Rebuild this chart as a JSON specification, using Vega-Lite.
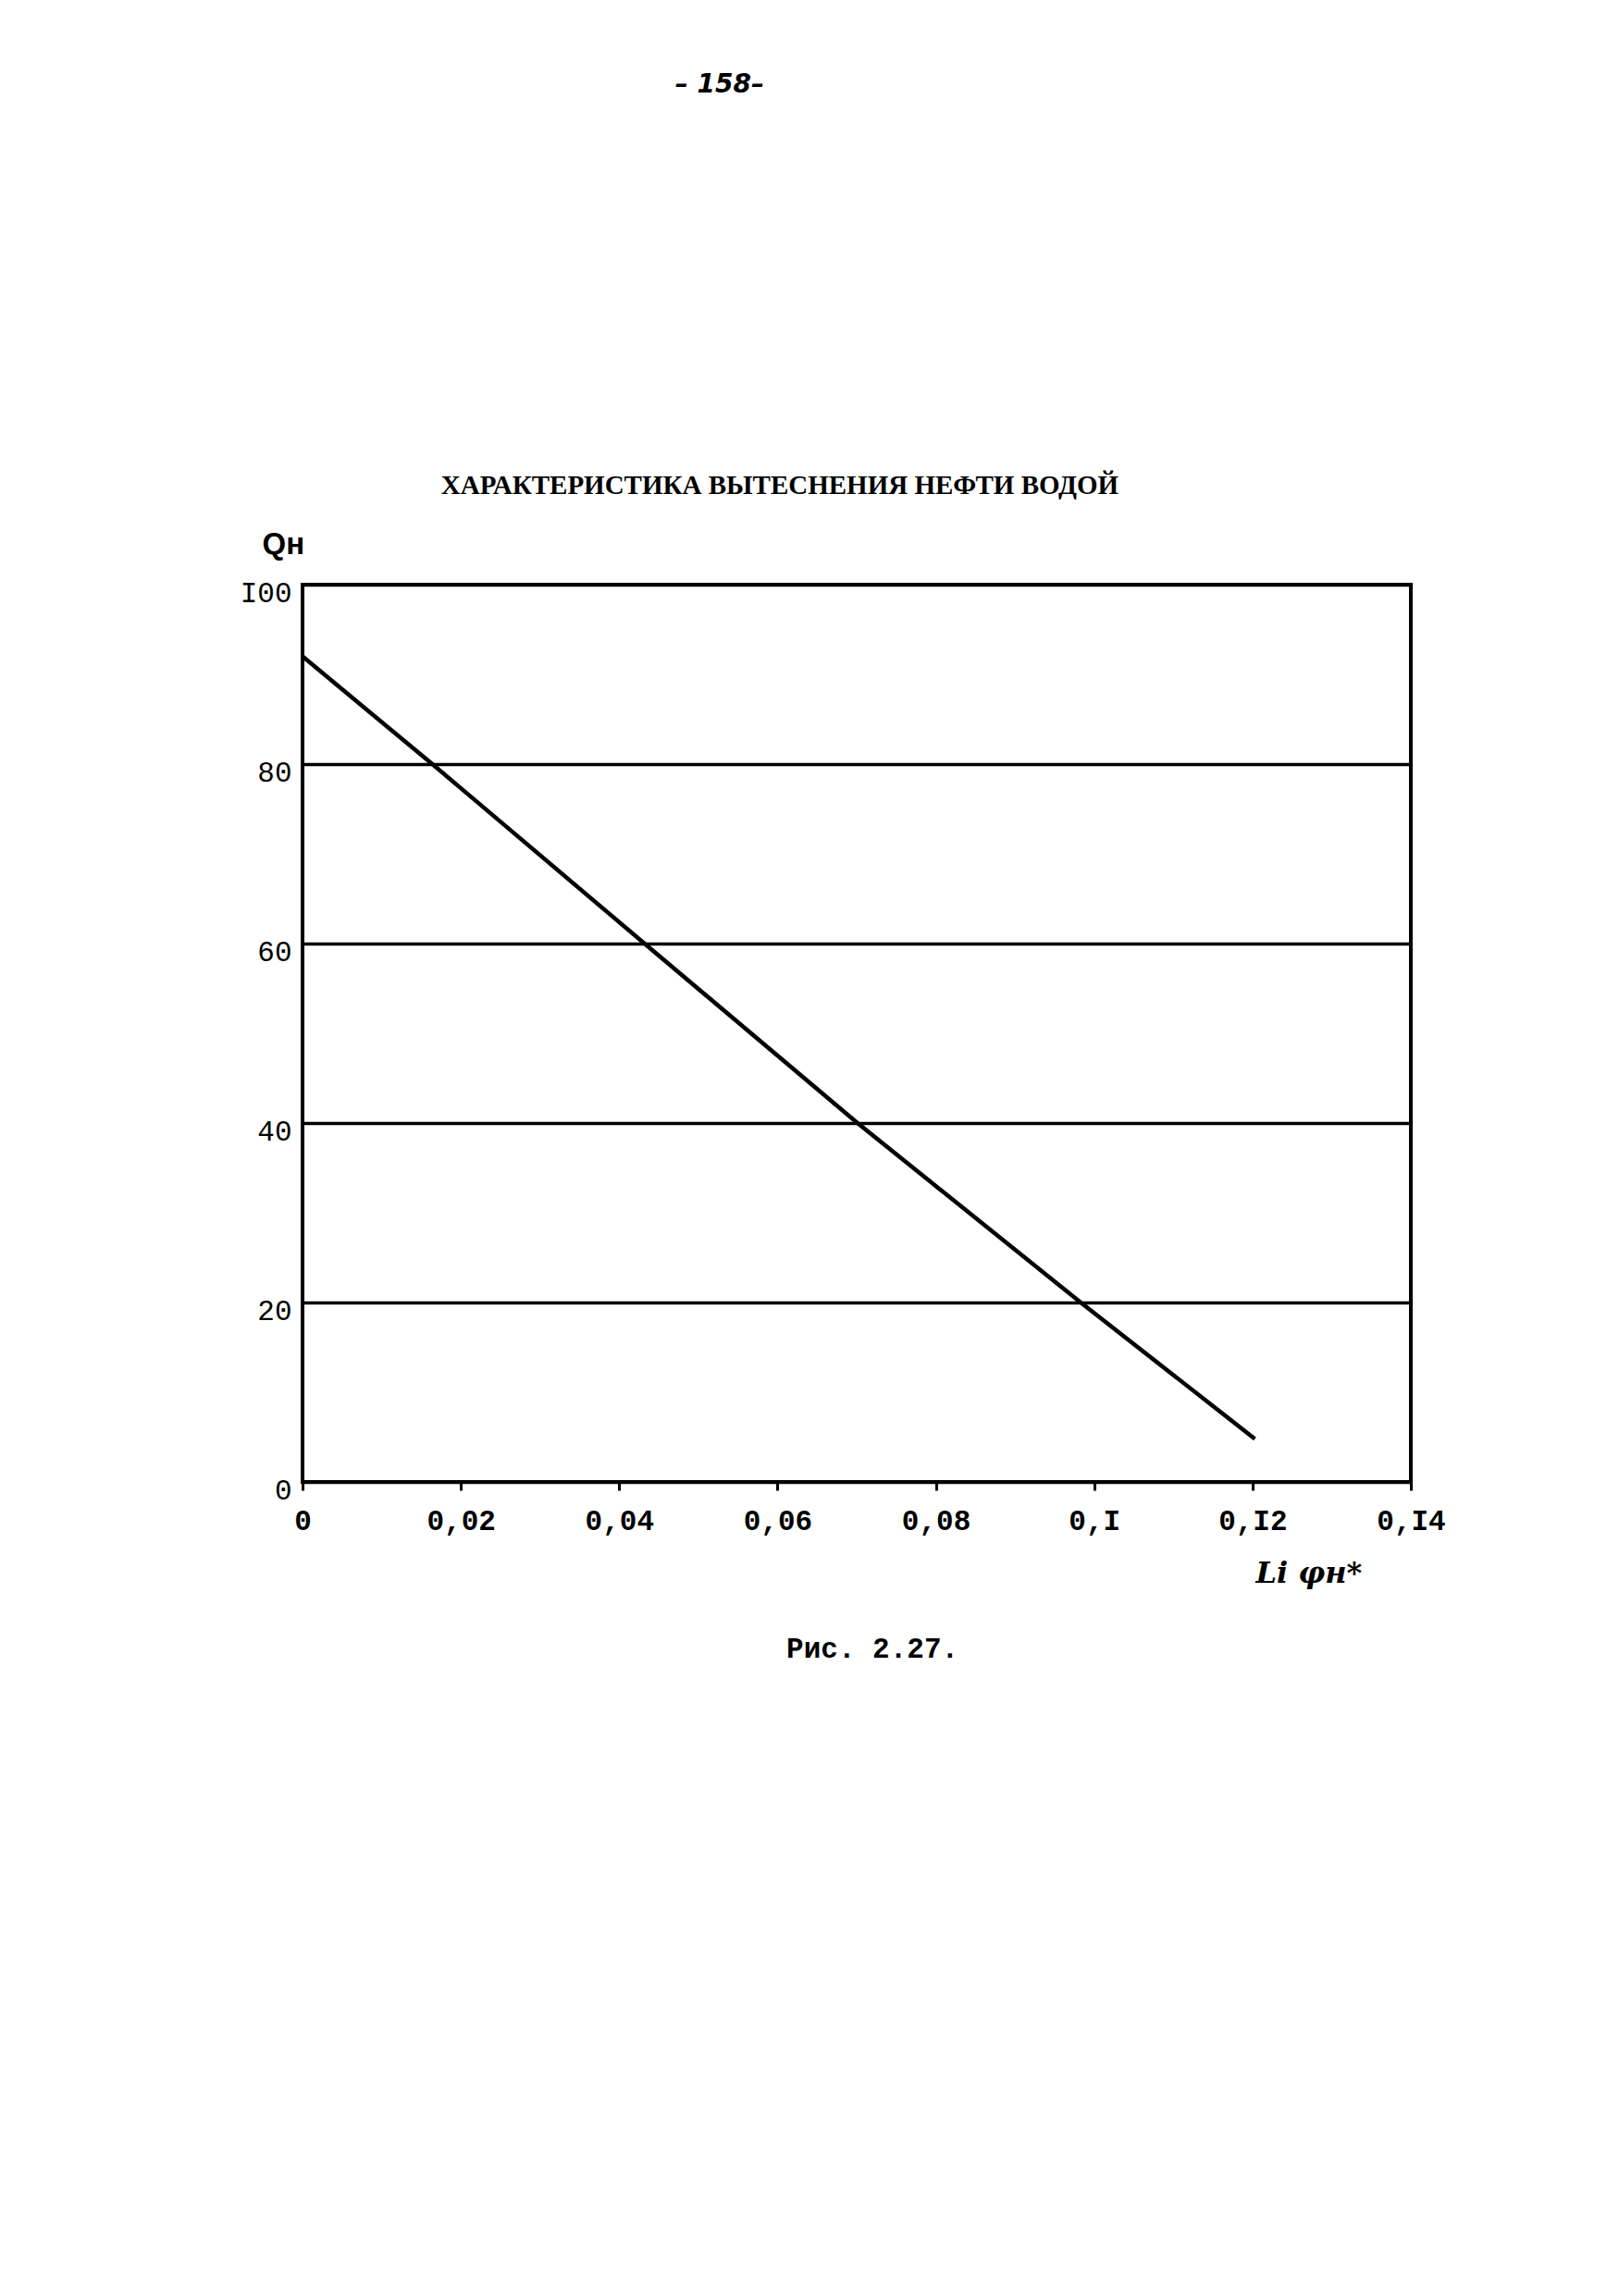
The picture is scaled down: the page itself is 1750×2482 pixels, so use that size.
{
  "$schema": "https://vega.github.io/schema/vega-lite/v6.json",
  "autosize": "none",
  "width": 1198,
  "height": 970,
  "padding": {"left": 327, "top": 632, "right": 225, "bottom": 880},
  "background": "white",
  "config": {"view": {"stroke": "black", "strokeWidth": 4}},
  "datasets": {
    "curve": [
      {"x": 0.0, "q": 92.0},
      {"x": 0.0164, "q": 80.0},
      {"x": 0.0432, "q": 60.0},
      {"x": 0.0701, "q": 40.0},
      {"x": 0.0983, "q": 20.0},
      {"x": 0.1203, "q": 4.8}
    ],
    "heading": [{"x": 0.0603, "q": 111.0, "label": "ХАРАКТЕРИСТИКА ВЫТЕСНЕНИЯ НЕФТИ ВОДОЙ"}],
    "pagenum": [{"x": 0.0527, "q": 155.7, "label": "– 158–"}],
    "caption": [{"x": 0.072, "q": -18.7, "label": "Рис. 2.27."}]
  },
  "layer": [
    {
      "data": {"name": "curve"},
      "mark": {"type": "line", "color": "black", "strokeWidth": 4.5, "clip": false},
      "encoding": {
        "x": {
          "field": "x",
          "type": "quantitative",
          "scale": {"domain": [0, 0.14], "nice": false, "zero": false},
          "axis": {
            "values": [0, 0.02, 0.04, 0.06, 0.08, 0.1, 0.12, 0.14],
            "labelExpr": "replace(replace(format(datum.value, '.2~f'), '.', ','), '1', 'I')",
            "labelFont": "Liberation Mono",
            "labelFontSize": 31,
            "labelFontWeight": "bold",
            "labelColor": "black",
            "labelFlush": false,
            "labelPadding": 18,
            "ticks": true,
            "tickSize": 9,
            "tickWidth": 3,
            "tickColor": "black",
            "domain": false,
            "grid": false,
            "title": "Li φн*",
            "titleFont": "DejaVu Serif",
            "titleFontStyle": "italic",
            "titleFontWeight": "bold",
            "titleFontSize": 32,
            "titleColor": "black",
            "titleX": 1030,
            "titleY": 98,
            "titleAlign": "left",
            "titleBaseline": "middle"
          }
        },
        "y": {
          "field": "q",
          "type": "quantitative",
          "scale": {"domain": [0, 100], "nice": false, "zero": false},
          "axis": {
            "values": [0, 20, 40, 60, 80, 100],
            "labelExpr": "datum.value == 100 ? 'I00' : datum.label",
            "labelFont": "Liberation Mono",
            "labelFontSize": 31,
            "labelColor": "black",
            "labelFlush": false,
            "labelPadding": 12,
            "labelOffset": 9,
            "labelBaseline": "middle",
            "ticks": false,
            "domain": false,
            "grid": true,
            "gridColor": "black",
            "gridWidth": 3.5,
            "gridOpacity": 1,
            "title": "Qн",
            "titleAngle": 0,
            "titleFont": "Liberation Sans",
            "titleFontWeight": "bold",
            "titleFontSize": 33,
            "titleColor": "black",
            "titleX": -44,
            "titleY": -44,
            "titleAlign": "left",
            "titleBaseline": "middle"
          }
        }
      }
    },
    {
      "data": {"name": "heading"},
      "mark": {"type": "text", "font": "Liberation Serif", "fontSize": 29, "fontWeight": "bold", "color": "black", "align": "center", "baseline": "middle"},
      "encoding": {
        "x": {"field": "x", "type": "quantitative"},
        "y": {"field": "q", "type": "quantitative"},
        "text": {"field": "label"}
      }
    },
    {
      "data": {"name": "pagenum"},
      "mark": {"type": "text", "font": "DejaVu Sans", "fontSize": 28, "fontStyle": "italic", "fontWeight": "bold", "color": "black", "align": "center", "baseline": "middle"},
      "encoding": {
        "x": {"field": "x", "type": "quantitative"},
        "y": {"field": "q", "type": "quantitative"},
        "text": {"field": "label"}
      }
    },
    {
      "data": {"name": "caption"},
      "mark": {"type": "text", "font": "Liberation Mono", "fontSize": 31, "fontWeight": "bold", "color": "black", "align": "center", "baseline": "middle"},
      "encoding": {
        "x": {"field": "x", "type": "quantitative"},
        "y": {"field": "q", "type": "quantitative"},
        "text": {"field": "label"}
      }
    }
  ]
}
